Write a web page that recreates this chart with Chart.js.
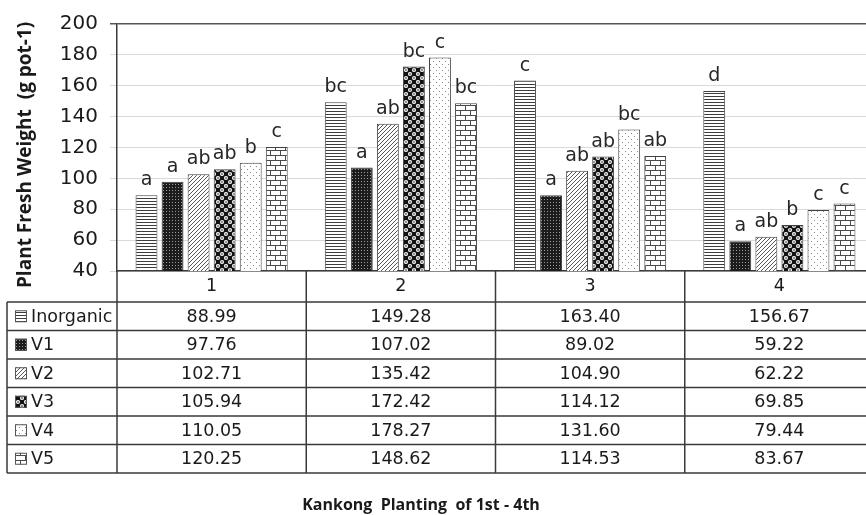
<!DOCTYPE html>
<html>
<head>
<meta charset="utf-8">
<script src="https://cdn.jsdelivr.net/npm/chart.js@4.4.0/dist/chart.umd.min.js"></script>
<style>
  html, body { margin: 0; padding: 0; background: #fff; overflow: hidden; }
  #wrap { width: 876px; height: 515px; }
</style>
</head>
<body>
<div id="wrap"><canvas id="chart" width="876" height="515"></canvas></div>
<script>
// data
const categories = ["1", "2", "3", "4"];
const seriesNames = ["Inorganic", "V1", "V2", "V3", "V4", "V5"];
const inorganic = [88.99, 149.28, 163.40, 156.67];
const v1 = [97.76, 107.02, 89.02, 59.22];
const v2 = [102.71, 135.42, 104.90, 62.22];
const v3 = [105.94, 172.42, 114.12, 69.85];
const v4 = [110.05, 178.27, 131.60, 79.44];
const v5 = [120.25, 148.62, 114.53, 83.67];
// significance letters over bars
const lettersInorganic = ["a", "bc", "c", "d"];
const lettersV1 = ["a", "a", "a", "a"];
const lettersV2 = ["ab", "ab", "ab", "ab"];
const lettersV3 = ["ab", "bc", "ab", "b"];
const lettersV4 = ["b", "c", "bc", "c"];
const lettersV5 = ["c", "bc", "ab", "c"];
const yMin = 40, yMax = 200, yStep = 20;

const INK = "#404040";

// fill patterns (like the office hatch fills)
function makePattern(kind) {
  const c = document.createElement("canvas");
  const g = c.getContext("2d");
  if (kind === "hlines") {
    c.width = 4; c.height = 3;
    g.fillStyle = "#fff"; g.fillRect(0, 0, 4, 3);
    g.fillStyle = "#3c3c3c"; g.fillRect(0, 0, 4, 1);
  } else if (kind === "dark") {
    c.width = 3; c.height = 3;
    g.fillStyle = "#1c1c1c"; g.fillRect(0, 0, 3, 3);
    g.fillStyle = "#9a9a9a"; g.fillRect(1, 1, 1, 1);
  } else if (kind === "diag") {
    c.width = 4; c.height = 4;
    g.fillStyle = "#fff"; g.fillRect(0, 0, 4, 4);
    g.fillStyle = "#555";
    for (let i = 0; i < 4; i++) g.fillRect(i, 3 - i, 1, 1);
  } else if (kind === "spheres") {
    c.width = 8; c.height = 8;
    g.fillStyle = "#111"; g.fillRect(0, 0, 8, 8);
    g.fillStyle = "#e8e8e8";
    [[2, 2], [6, 6]].forEach(([x, y]) => {
      g.beginPath(); g.arc(x, y, 2.1, 0, Math.PI * 2); g.fill();
    });
    g.fillStyle = "#222";
    [[2, 2], [6, 6]].forEach(([x, y]) => {
      g.beginPath(); g.arc(x, y, 0.8, 0, Math.PI * 2); g.fill();
    });
  } else if (kind === "dots") {
    c.width = 6; c.height = 6;
    g.fillStyle = "#fff"; g.fillRect(0, 0, 6, 6);
    g.fillStyle = "#8a8a8a";
    g.fillRect(1, 1, 1, 1); g.fillRect(4, 4, 1, 1);
  } else if (kind === "brick") {
    c.width = 10; c.height = 10;
    g.fillStyle = "#fff"; g.fillRect(0, 0, 10, 10);
    g.fillStyle = "#4a4a4a";
    g.fillRect(0, 0, 10, 1); g.fillRect(0, 5, 10, 1);
    g.fillRect(0, 0, 1, 5); g.fillRect(5, 5, 1, 5);
  }
  return g.createPattern(c, "repeat");
}

const fills = ["hlines", "dark", "diag", "spheres", "dots", "brick"].map(makePattern);
const values = [inorganic, v1, v2, v3, v4, v5];
const letters = [lettersInorganic, lettersV1, lettersV2, lettersV3, lettersV4, lettersV5];

const datasets = seriesNames.map((name, i) => ({
  label: name,
  data: values[i],
  letters: letters[i],
  backgroundColor: fills[i],
  borderColor: INK,
  borderWidth: 1,
  categoryPercentage: 0.826,
  barPercentage: 0.84
}));

// 🔹 letters above every bar
const letterPlugin = {
  id: "letters",
  afterDatasetsDraw(chart) {
    const ctx = chart.ctx;
    ctx.save();
    ctx.font = '19px "DejaVu Sans"';
    ctx.fillStyle = "#262626";
    ctx.textAlign = "center";
    ctx.textBaseline = "alphabetic";
    chart.data.datasets.forEach((ds, di) => {
      chart.getDatasetMeta(di).data.forEach((bar, i) => {
        ctx.fillText(ds.letters[i], bar.x, bar.y - 10);
      });
    });
    ctx.restore();
  }
};

// 🔹 data table under the axis
const tablePlugin = {
  id: "dataTable",
  afterDraw(chart) {
    const ctx = chart.ctx;
    const xs = chart.scales.x;
    const area = chart.chartArea;
    const colW = (area.right - area.left) / categories.length;
    const headBottom = area.bottom + 31;
    const rowH = 28.5;
    const tableLeft = 7;
    const tableRight = area.right;
    const tableBottom = headBottom + rowH * seriesNames.length;

    ctx.save();
    ctx.strokeStyle = "#3a3a3a";
    ctx.lineWidth = 1.5;
    ctx.beginPath();
    for (let r = 0; r <= seriesNames.length; r++) {
      const y = headBottom + r * rowH;
      ctx.moveTo(tableLeft, y); ctx.lineTo(tableRight, y);
    }
    ctx.moveTo(tableLeft, headBottom); ctx.lineTo(tableLeft, tableBottom);
    for (let c = 0; c <= categories.length; c++) {
      const x = area.left + c * colW;
      ctx.moveTo(x, area.bottom); ctx.lineTo(x, tableBottom);
    }
    ctx.stroke();

    ctx.textBaseline = "middle";
    seriesNames.forEach((name, r) => {
      const yc = headBottom + r * rowH + rowH / 2;
      // legend swatch
      ctx.fillStyle = fills[r];
      ctx.fillRect(15, yc - 6, 12, 12);
      ctx.lineWidth = 1;
      ctx.strokeStyle = "#555";
      ctx.strokeRect(15.5, yc - 5.5, 11, 11);
      ctx.fillStyle = "#1a1a1a";
      ctx.font = '17.5px "DejaVu Sans"';
      ctx.textAlign = "left";
      ctx.fillText(name, 31, yc + 1);
      ctx.textAlign = "center";
      values[r].forEach((v, i) => {
        ctx.fillText(v.toFixed(2), xs.getPixelForValue(i), yc + 1);
      });
    });

    ctx.font = 'bold 16px "Open Sans"';
    ctx.textAlign = "center";
    ctx.textBaseline = "alphabetic";
    ctx.fillStyle = "#1a1a1a";
    ctx.fillText("Kankong  Planting  of 1st - 4th", 421, 510);
    ctx.restore();
  }
};

new Chart(document.getElementById("chart"), {
  type: "bar",
  data: { labels: categories, datasets },
  plugins: [letterPlugin, tablePlugin],
  options: {
    responsive: false,
    animation: false,
    layout: { padding: { top: 24, right: 2, left: 0, bottom: 0 } },
    plugins: { legend: { display: false }, tooltip: { enabled: false } },
    scales: {
      x: {
        grid: { display: false, drawTicks: false },
        border: { display: true, color: "#3a3a3a", width: 1.5 },
        ticks: { color: "#1a1a1a", font: { family: "DejaVu Sans", size: 17.5 }, padding: 5 },
        afterFit(scale) { scale.height = 244; }
      },
      y: {
        min: yMin,
        max: yMax,
        ticks: {
          stepSize: yStep,
          color: "#1a1a1a",
          font: { family: "DejaVu Sans", size: 20 },
          padding: 12
        },
        grid: {
          color: ctx => (ctx.tick && ctx.tick.value === yMax ? "#555" : "#d9d9d9"),
          lineWidth: ctx => (ctx.tick && ctx.tick.value === yMax ? 1.5 : 1),
          tickLength: 7
        },
        border: { display: true, color: "#3a3a3a", width: 1.5 },
        title: {
          display: true,
          text: "Plant Fresh Weight  (g pot-1)   ",
          color: "#1a1a1a",
          font: { family: "Open Sans", size: 19, weight: "bold" },
          padding: { top: 14, bottom: 0 }
        },
        afterFit(scale) { scale.width = 117; }
      }
    }
  }
});
</script>
</body>
</html>
